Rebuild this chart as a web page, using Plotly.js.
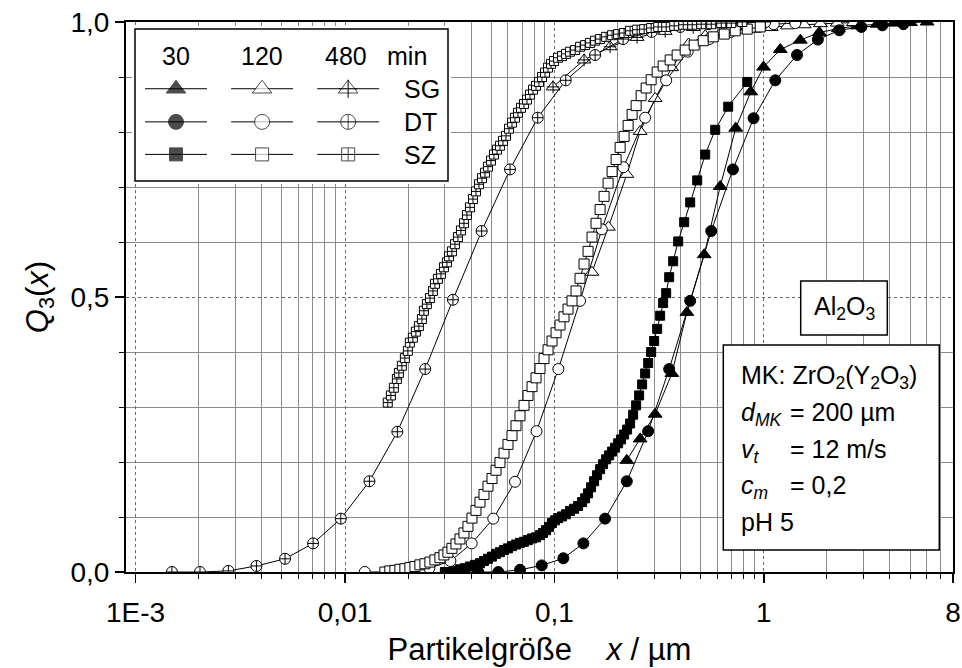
<!DOCTYPE html>
<html><head><meta charset="utf-8">
<script src="https://cdn.plot.ly/plotly-3.0.1.min.js"></script>
<style>html,body{margin:0;padding:0;background:#fff;}#chart{width:962px;height:668px;}</style>
</head><body><div id="chart"></div>
<script>
// ---------------- data (x in µm, Q3 as fraction) ----------------
// 30 min
const sg30X = [0.2216, 0.2566, 0.3026, 0.3637, 0.4290, 0.5190, 0.6188, 0.7340, 0.8656, 0.9967, 1.198, 1.493, 1.840, 2.268, 2.796, 3.472, 4.168, 5.010, 6.020];
const sg30Q = [0.203, 0.242, 0.287, 0.361, 0.472, 0.577, 0.701, 0.807, 0.873, 0.918, 0.950, 0.967, 0.981, 0.988, 0.993, 0.996, 0.998, 0.999, 1.000];
const dt30X = [0.04328, 0.05393, 0.06849, 0.08696, 0.1103, 0.1375, 0.1745, 0.2216, 0.2802, 0.3530, 0.4448, 0.5606, 0.7117, 0.8928, 1.134, 1.440, 1.810, 2.293, 2.922, 3.681, 4.638];
const dt30Q = [0.000, 0.000, 0.004, 0.012, 0.025, 0.052, 0.097, 0.165, 0.256, 0.369, 0.493, 0.620, 0.732, 0.825, 0.894, 0.940, 0.968, 0.985, 0.991, 0.994, 0.996];
const sz30X = [0.02999, 0.03170, 0.03349, 0.03538, 0.03739, 0.03950, 0.04174, 0.04410,
  0.04609, 0.04816, 0.05033, 0.05260, 0.05495, 0.05743, 0.06001, 0.06271, 0.06554, 0.06849, 0.07157, 0.07479, 0.07816, 0.08168, 0.08535,
  0.08821, 0.09117, 0.09423, 0.09739, 0.1007, 0.1041,
  0.1087, 0.1136, 0.1187, 0.1241, 0.1297, 0.1355,
  0.1401, 0.1447, 0.1496, 0.1546, 0.1598, 0.1652, 0.1707, 0.1765, 0.1824, 0.1885, 0.1948, 0.2014, 0.2081, 0.2151, 0.2223, 0.2298, 0.2375, 0.2455, 0.2537, 0.2622, 0.2711, 0.2802, 0.2896, 0.2993, 0.3094, 0.3197, 0.3304, 0.3416,
  0.3530, 0.3689, 0.3898, 0.4164, 0.4448, 0.4805, 0.5247, 0.5858, 0.6756, 0.8329];
const sz30Q = [0.000, 0.000, 0.002, 0.005, 0.007, 0.010, 0.013, 0.016,
  0.020, 0.024, 0.028, 0.033, 0.036, 0.040, 0.043, 0.047, 0.050, 0.053, 0.055, 0.058, 0.061, 0.063, 0.067,
  0.071, 0.076, 0.082, 0.089, 0.094, 0.098,
  0.101, 0.105, 0.111, 0.115, 0.120, 0.127,
  0.134, 0.143, 0.154, 0.165, 0.176, 0.187, 0.196, 0.205, 0.212, 0.219, 0.226, 0.234, 0.241, 0.250, 0.259, 0.270, 0.286, 0.303, 0.321, 0.341, 0.361, 0.380, 0.400, 0.420, 0.442, 0.466, 0.489, 0.507,
  0.536, 0.565, 0.601, 0.636, 0.672, 0.712, 0.759, 0.804, 0.846, 0.891];
// 120 min
const sg120X = [0.1510, 0.1810, 0.2216, 0.2566, 0.3026, 0.3629, 0.4366, 0.5247, 0.6291, 0.7545, 0.8997, 1.085, 1.294, 1.560, 1.861, 2.243, 2.675];
const sg120Q = [0.545, 0.627, 0.723, 0.801, 0.861, 0.917, 0.960, 0.975, 0.982, 0.985, 0.987, 0.990, 0.993, 0.995, 0.997, 0.998, 0.999];
const dt120X = [0.01243, 0.01579, 0.01996, 0.02529, 0.03187, 0.04025, 0.05105, 0.06482, 0.08214, 0.1044, 0.1325, 0.1683, 0.2135, 0.2711, 0.3416, 0.4328, 0.5483, 0.6947, 0.8800, 1.115, 1.413];
const dt120Q = [0.000, 0.000, 0.002, 0.007, 0.020, 0.052, 0.097, 0.164, 0.256, 0.369, 0.493, 0.623, 0.736, 0.826, 0.894, 0.946, 0.969, 0.982, 0.991, 0.996, 0.998];
const sz120X = [0.01550, 0.01637, 0.01730, 0.01828, 0.01931, 0.02040, 0.02156, 0.02278, 0.02407, 0.02543, 0.02687, 0.02839,
  0.02967, 0.03100, 0.03240, 0.03386, 0.03538, 0.03698, 0.03864, 0.04038, 0.04220, 0.04410, 0.04609, 0.04816, 0.05033, 0.05260, 0.05495, 0.05743, 0.06001, 0.06271, 0.06554, 0.06849,
  0.07157, 0.07479, 0.07816, 0.08168, 0.08535, 0.08919, 0.09320, 0.09739, 0.1018, 0.1063, 0.1111, 0.1161, 0.1213, 0.1268, 0.1325, 0.1385, 0.1447, 0.1512, 0.1580, 0.1652,
  0.1726, 0.1804, 0.1885, 0.1970, 0.2059, 0.2151, 0.2248, 0.2349, 0.2455,
  0.2594, 0.2741, 0.2896, 0.3094, 0.3304, 0.3569, 0.3855, 0.4210, 0.4648, 0.5133, 0.5731, 0.6468, 0.7300, 0.8329, 0.9611];
const sz120Q = [0.000, 0.002, 0.003, 0.005, 0.006, 0.008, 0.010, 0.013, 0.015, 0.018, 0.022, 0.026,
  0.031, 0.036, 0.043, 0.051, 0.060, 0.071, 0.083, 0.098, 0.112, 0.127, 0.141, 0.156, 0.170, 0.185, 0.199, 0.216, 0.232, 0.248, 0.266, 0.284,
  0.303, 0.321, 0.337, 0.353, 0.370, 0.388, 0.404, 0.420, 0.435, 0.449, 0.464, 0.478, 0.493, 0.511, 0.534, 0.560, 0.583, 0.609, 0.634, 0.659,
  0.683, 0.707, 0.728, 0.750, 0.772, 0.792, 0.812, 0.832, 0.848,
  0.866, 0.880, 0.895, 0.909, 0.920, 0.931, 0.940, 0.949, 0.958, 0.966, 0.973, 0.978, 0.984, 0.987, 0.991];
// 480 min
const sg480X = [0.09847, 0.1385, 0.1844, 0.2482, 0.3379, 0.4597, 0.6257, 0.8514];
const sg480Q = [0.882, 0.931, 0.955, 0.972, 0.983, 0.990, 0.995, 0.998];
const dt480X = [0.001491, 0.002030, 0.002774, 0.003776, 0.005173, 0.007040, 0.009548, 0.01308, 0.01778, 0.02415, 0.03276, 0.04493, 0.06136, 0.08321, 0.1132, 0.1564, 0.2128, 0.2912, 0.3985, 0.5423, 0.7420, 1.016];
const dt480Q = [0.000, 0.000, 0.002, 0.011, 0.024, 0.052, 0.097, 0.165, 0.255, 0.369, 0.495, 0.620, 0.732, 0.826, 0.894, 0.940, 0.969, 0.982, 0.991, 0.996, 0.998, 1.000];
const sz480X = [0.0160, 0.01656, 0.01711, 0.01769, 0.01808, 0.01868, 0.01931, 0.01996, 0.02040, 0.02109, 0.02180, 0.02253, 0.02329, 0.02381, 0.02460, 0.02544, 0.02629, 0.02688, 0.02778, 0.02871, 0.02968, 0.03067, 0.03136, 0.03240,
  0.03349, 0.03461, 0.03577, 0.03698, 0.03822, 0.03951, 0.04083, 0.04220, 0.04362, 0.04508, 0.04659, 0.04815, 0.04977, 0.05144, 0.05317, 0.05495, 0.05679, 0.05870, 0.06067, 0.06270, 0.06481, 0.06698, 0.06923, 0.07155, 0.07396, 0.07644, 0.07900, 0.08166, 0.08440, 0.08723, 0.09017, 0.09319, 0.09632, 0.09956,
  0.1040, 0.1087, 0.1136, 0.1187, 0.1255, 0.1326, 0.1401, 0.1480, 0.1564, 0.1652, 0.1765, 0.1885, 0.2014, 0.2151, 0.2298, 0.2482, 0.2681, 0.2896, 0.3128, 0.3417, 0.3731, 0.4120, 0.4548, 0.5022, 0.5607, 0.6259, 0.6987, 0.7887];
const sz480Q = [0.308, 0.321, 0.335, 0.351, 0.362, 0.375, 0.389, 0.402, 0.417, 0.426, 0.437, 0.447, 0.460, 0.475, 0.487, 0.498, 0.511, 0.524, 0.533, 0.542, 0.554, 0.563, 0.574, 0.583,
  0.596, 0.609, 0.621, 0.634, 0.649, 0.663, 0.678, 0.692, 0.705, 0.716, 0.726, 0.737, 0.748, 0.759, 0.768, 0.775, 0.784, 0.793, 0.806, 0.817, 0.826, 0.835, 0.844, 0.851, 0.859, 0.868, 0.877, 0.884, 0.891, 0.900, 0.908, 0.917, 0.924, 0.929,
  0.935, 0.938, 0.942, 0.946, 0.949, 0.955, 0.958, 0.962, 0.966, 0.969, 0.973, 0.976, 0.978, 0.980, 0.984, 0.986, 0.987, 0.989, 0.991, 0.991, 0.993, 0.995, 0.995, 0.996, 0.996, 0.998, 0.998, 1.000];

// ticks and labels
const xTickVals = [0.001, 0.01, 0.1, 1, 8];
const xTickText = ['1E-3', '0,01', '0,1', '1', '8'];
const xMinorVals = [0.002, 0.003, 0.004, 0.005, 0.006, 0.007, 0.008, 0.009,
  0.02, 0.03, 0.04, 0.05, 0.06, 0.07, 0.08, 0.09,
  0.2, 0.3, 0.4, 0.5, 0.6, 0.7, 0.8, 0.9, 2, 3, 4, 5, 6, 7];
const yTickVals = [0, 0.5, 1];
const yTickText = ['0,0', '0,5', '1,0'];
const yMinorVals = [0.1, 0.2, 0.3, 0.4, 0.6, 0.7, 0.8, 0.9];
const legendTimes = ['30', '120', '480'];
const legendMaterials = ['SG', 'DT', 'SZ'];

// ---------------- styling / construction ----------------
const FONT = '"Liberation Sans", Arial, Helvetica, sans-serif';
const W = 962, H = 668, ML = 126, MR = 9, MT = 22, MB = 96;
const PW = W - ML - MR, PH = H - MT - MB;
const px2paper = p => (p - ML) / PW;
const py2paper = p => (H - MB - p) / PH;

const styles = {
  SG: {sym: 'triangle-up', size: 12, leg: 17},
  DT: {sym: 'circle', size: 11, leg: 15},
  SZ: {sym: 'square', size: 9, leg: 13}
};
const series = [
  {m: 'SG', t: 0, x: sg30X, y: sg30Q}, {m: 'SG', t: 1, x: sg120X, y: sg120Q}, {m: 'SG', t: 2, x: sg480X, y: sg480Q},
  {m: 'DT', t: 0, x: dt30X, y: dt30Q}, {m: 'DT', t: 1, x: dt120X, y: dt120Q}, {m: 'DT', t: 2, x: dt480X, y: dt480Q},
  {m: 'SZ', t: 0, x: sz30X, y: sz30Q}, {m: 'SZ', t: 1, x: sz120X, y: sz120Q}, {m: 'SZ', t: 2, x: sz480X, y: sz480Q}
];
function symbolFor(m, t) {
  const base = styles[m].sym;
  if (t === 2 && m !== 'SG') return base + '-cross';
  return base;
}
const traces = [];
const legX = [0.131, 0.406, 0.681];   // legend column centres (x3 units)
const legY = {SG: 0.607, DT: 0.389, SZ: 0.175};
const half = 0.099;
series.forEach(s => {
  const st = styles[s.m];
  const fill = s.t === 0 ? 'black' : 'white';
  const sz = (s.m === 'SZ' && s.t === 1) ? 10 : st.size;
  traces.push({
    x: s.x, y: s.y, type: 'scatter', mode: 'lines+markers', hoverinfo: 'skip',
    line: {color: 'black', width: 1},
    marker: {symbol: symbolFor(s.m, s.t), size: sz, color: fill, line: {color: 'black', width: 1}}
  });
  if (s.m === 'SG' && s.t === 2) {
    traces.push({x: s.x, y: s.y, type: 'scatter', mode: 'markers', hoverinfo: 'skip',
      marker: {symbol: 'cross-thin', size: 9, color: 'black', line: {color: 'black', width: 1}}});
  }
  // legend sample
  const cx = legX[s.t], cy = legY[s.m];
  traces.push({
    x: [cx - half, cx, cx + half], y: [cy, cy, cy], xaxis: 'x3', yaxis: 'y3',
    type: 'scatter', mode: 'lines+markers', hoverinfo: 'skip',
    line: {color: 'black', width: 1},
    marker: {symbol: symbolFor(s.m, s.t), size: [0, st.leg, 0], color: fill, line: {color: 'black', width: [0, 1, 0]}}
  });
  if (s.m === 'SG' && s.t === 2) {
    traces.push({x: [cx], y: [cy], xaxis: 'x3', yaxis: 'y3', type: 'scatter', mode: 'markers', hoverinfo: 'skip',
      marker: {symbol: 'cross-thin', size: 13, color: 'black', line: {color: 'black', width: 1}}});
  }
});

const xRange = [Math.log10(0.0009), Math.log10(8)];
const gridMinor = '#8c8c8c', gridMajor = '#6a6a6a';

const annotations = [];
function ann(text, px, capCenterPy, anchor, size) {
  annotations.push({
    text: text, xref: 'paper', yref: 'paper', x: px2paper(px), y: py2paper(capCenterPy - 9 - 4.7 - 2),
    xanchor: anchor, yanchor: 'top', showarrow: false,
    font: {family: FONT, size: size || 25, color: 'black'}
  });
}
// legend header and row labels
const headerX = [176, 262, 346];
legendTimes.forEach((t, i) => ann(t, headerX[i], 56, 'center'));
ann('min', 407, 56, 'center');
const rowPy = [88.5, 121.7, 154.3];
legendMaterials.forEach((m, i) => ann(m, 402, rowPy[i], 'left'));
// Al2O3 box
ann('Al<sub>2</sub>O<sub>3</sub>', 844, 306, 'center');
// parameters box
ann('MK: ZrO<sub>2</sub>(Y<sub>2</sub>O<sub>3</sub>)', 739, 375, 'left');
ann('<i>d</i><sub><i>MK</i></sub>', 739, 412, 'left');
ann('= 200 µm', 788, 412, 'left');
ann('<i>v</i><sub><i>t</i></sub>', 739, 449, 'left');
ann('= 12 m/s', 788, 449, 'left');
ann('<i>c</i><sub><i>m</i></sub>', 739, 485, 'left');
ann('= 0,2', 788, 485, 'left');
ann('pH 5', 739, 522, 'left');

const shapes = [
  {type: 'rect', xref: 'x3', yref: 'y3', x0: 0, x1: 1, y0: 0, y1: 1, layer: 'below',
   fillcolor: 'white', line: {color: 'black', width: 1.5}},
  {type: 'rect', xref: 'paper', yref: 'paper', x0: px2paper(800.7), x1: px2paper(887.3), y0: py2paper(335), y1: py2paper(281),
   layer: 'above', fillcolor: 'white', line: {color: 'black', width: 1.5}},
  {type: 'rect', xref: 'paper', yref: 'paper', x0: px2paper(723.3), x1: px2paper(939.3), y0: py2paper(550), y1: py2paper(345),
   layer: 'above', fillcolor: 'white', line: {color: 'black', width: 1.5}}
];
// legend subplot geometry (box 135..448 x 29..181 px, padded 3 px)
const lx0 = 132, lx1 = 451, ly0 = 26, ly1 = 184;
const ux = 3 / 313, uy = 3 / 152;

const layout = {
  width: W, height: H,
  margin: {l: ML, r: MR, t: MT, b: MB, pad: 0},
  paper_bgcolor: 'white', plot_bgcolor: 'white',
  showlegend: false,
  font: {family: FONT, size: 25, color: 'black'},
  xaxis: {
    type: 'log', range: xRange, anchor: 'y',
    tickmode: 'array', tickvals: xTickVals, ticktext: xTickText,
    ticks: 'outside', ticklen: 9, tickwidth: 1.5, tickcolor: 'black',
    ticklabelstandoff: 5,
    showline: true, linecolor: 'black', linewidth: 2, mirror: true,
    showgrid: true, gridcolor: gridMajor, gridwidth: 1, griddash: 'dot', zeroline: false,
    minor: {tickmode: 'array', tickvals: xMinorVals, ticks: 'outside', ticklen: 5, tickwidth: 1, tickcolor: 'black',
            showgrid: true, gridcolor: gridMinor, gridwidth: 1, griddash: 'solid'},
    tickfont: {family: FONT, size: 28},
    title: {text: 'Partikelgröße\u00a0\u00a0\u00a0\u00a0<i>x</i> / µm', font: {family: FONT, size: 31}, standoff: 12},
    automargin: false
  },
  yaxis: {
    range: [0, 1], anchor: 'x',
    tickmode: 'array', tickvals: yTickVals, ticktext: yTickText,
    ticks: 'outside', ticklen: 9, tickwidth: 1.5, tickcolor: 'black',
    showline: true, linecolor: 'black', linewidth: 2, mirror: true,
    showgrid: true, gridcolor: gridMajor, gridwidth: 1, griddash: 'dot', zeroline: false,
    minor: {tickmode: 'array', tickvals: yMinorVals, ticks: 'outside', ticklen: 5, tickwidth: 1, tickcolor: 'black',
            showgrid: true, gridcolor: gridMinor, gridwidth: 1, griddash: 'solid'},
    tickfont: {family: FONT, size: 28},
    title: {text: '<i>Q</i><sub>3</sub>(<i>x</i>)', font: {family: FONT, size: 31}, standoff: 13},
    automargin: false
  },
  xaxis2: {
    type: 'log', range: xRange, overlaying: 'x', anchor: 'y', side: 'top',
    tickmode: 'array', tickvals: xTickVals, showticklabels: false,
    ticks: 'inside', ticklen: 9, tickwidth: 1.5, tickcolor: 'black',
    showline: false, showgrid: false, zeroline: false,
    minor: {tickmode: 'array', tickvals: xMinorVals, ticks: 'inside', ticklen: 5, tickwidth: 1, tickcolor: 'black', showgrid: false}
  },
  yaxis2: {
    range: [0, 1], overlaying: 'y', anchor: 'x', side: 'right',
    tickmode: 'array', tickvals: yTickVals, showticklabels: false,
    ticks: 'inside', ticklen: 9, tickwidth: 1.5, tickcolor: 'black',
    showline: false, showgrid: false, zeroline: false,
    minor: {tickmode: 'array', tickvals: yMinorVals, ticks: 'inside', ticklen: 5, tickwidth: 1, tickcolor: 'black', showgrid: false}
  },
  xaxis3: {domain: [px2paper(lx0), px2paper(lx1)], range: [-ux, 1 + ux], anchor: 'y3', visible: false, fixedrange: true},
  yaxis3: {domain: [py2paper(ly1), py2paper(ly0)], range: [-uy, 1 + uy], anchor: 'x3', visible: false, fixedrange: true},
  shapes: shapes,
  annotations: annotations
};

Plotly.newPlot('chart', traces, layout, {staticPlot: true, displayModeBar: false});
</script>
</body></html>
